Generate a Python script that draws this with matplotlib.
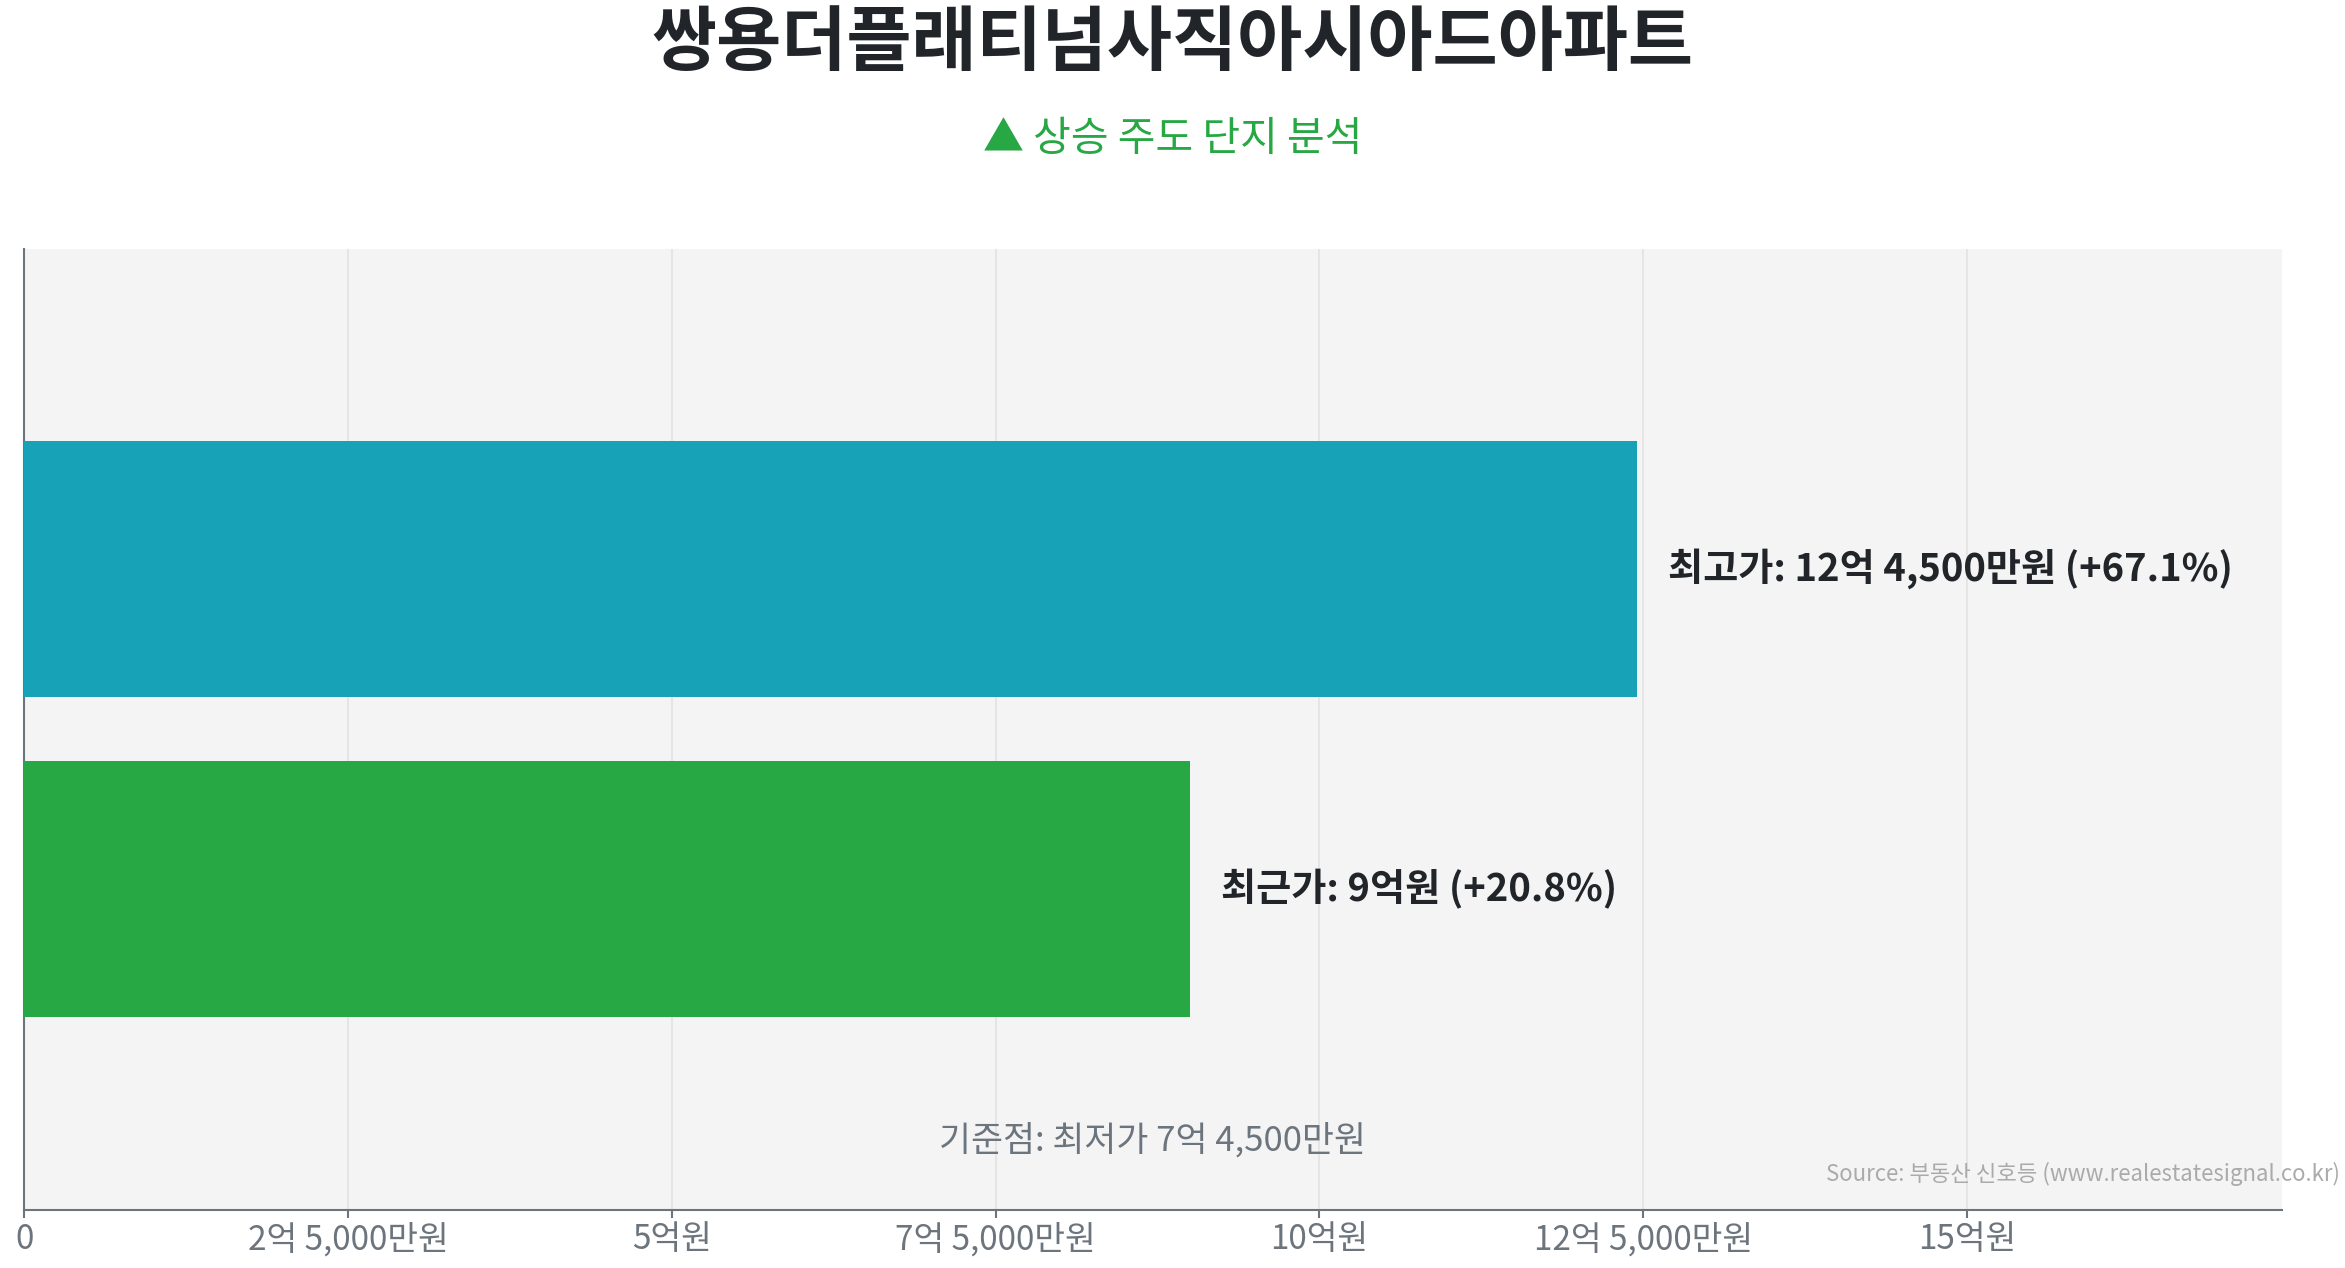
import matplotlib
matplotlib.use("Agg")
import matplotlib.pyplot as plt
from matplotlib.ticker import FixedLocator, FixedFormatter

plt.rcParams['font.family'] = ['Noto Sans CJK KR', 'DejaVu Sans']

title = "쌍용더플래티넘사직아시아드아파트"
subtitle = "▲ 상승 주도 단지 분석"
categories = ["최근가", "최고가"]
values = [9.0, 12.45]          # 억원
labels = ["최근가: 9억원 (+20.8%)", "최고가: 12억 4,500만원 (+67.1%)"]
colors = ["#28a745", "#17a2b8"]
base_text = "기준점: 최저가 7억 4,500만원"
tick_vals = [0, 2.5, 5, 7.5, 10, 12.5, 15]
tick_labels = ["0", "2억 5,000만원", "5억원", "7억 5,000만원", "10억원", "12억 5,000만원", "15억원"]
source = "Source: 부동산 신호등 (www.realestatesignal.co.kr)"

fig = plt.figure(figsize=(23.45, 12.68), dpi=100)
ax = fig.add_axes([0.0103, 0.046, 0.9627, 0.758])
ax.set_facecolor("#f4f4f4")

ypos = list(range(len(categories)))
ax.barh(ypos, values, height=0.8, color=colors, zorder=3)
for y, v, lab in zip(ypos, values, labels):
    ax.text(v + 0.24, y, lab, va="center", ha="left", fontsize=27.5,
            fontweight="bold", color="#212529", zorder=4)

ax.set_xlim(0, 12.45 * 1.4)
ax.set_ylim(-1, 2)
ax.set_yticks([])
ax.xaxis.set_major_locator(FixedLocator(tick_vals))
ax.xaxis.set_major_formatter(FixedFormatter(tick_labels))
ax.tick_params(axis="x", labelsize=24, labelcolor="#6c757d", color="#6c757d",
               length=6, width=1.5, pad=3)
ax.grid(axis="x", color="#e2e2e2", linewidth=1.2, zorder=0)
for s in ["top", "right"]:
    ax.spines[s].set_visible(False)
for s in ["left", "bottom"]:
    ax.spines[s].set_color("#6c757d")
    ax.spines[s].set_linewidth(1.5)

ax.text(0.5, 0.072, base_text, transform=ax.transAxes, ha="center", va="center",
        fontsize=25, color="#6c757d")

fig.text(0.5, 0.965, title, ha="center", va="center", fontsize=51,
         fontweight="bold", color="#212529")
fig.text(0.5, 0.890, subtitle, ha="center", va="center", fontsize=29.5,
         color="#28a745")
fig.text(0.998, 0.074, source, ha="right", va="center", fontsize=16,
         color="#aaaaaa")

fig.savefig("out.png", dpi=100)
